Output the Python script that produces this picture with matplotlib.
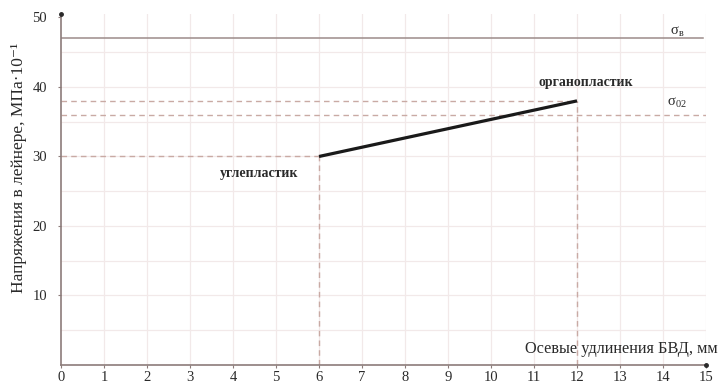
import matplotlib
matplotlib.use("Agg")
import matplotlib.pyplot as plt

plt.rcParams['font.family'] = ['Liberation Serif', 'DejaVu Serif']

# Data
x_ticks = list(range(0, 16))
y_ticks = [10, 20, 30, 40, 50]
line_x = [6, 12]
line_y = [30, 38]
sigma_b = 47
sigma_02 = 36
label_start = "углепластик"
label_end = "органопластик"

fig = plt.figure(figsize=(7.2, 3.85), dpi=100)
ax = fig.add_axes([61 / 720, 20 / 385, 645 / 720, 351 / 385])
ax.set_xlim(0, 15)
ax.set_ylim(0, 50.5)

# faint grid
grid_c = '#f2e9e9'
for gx in x_ticks[1:]:
    ax.axvline(gx, color=grid_c, lw=0.9, zorder=0)
for gy in range(5, 50, 5):
    ax.axhline(gy, color=grid_c, lw=0.9, zorder=0)

# reference levels
ax.axhline(sigma_b, color='#9c8c8a', lw=1.1, xmax=14.93 / 15, zorder=2)
dash_c = '#c9aaa4'
dash = (0, (4, 3))
ax.plot([0, 15], [sigma_02, sigma_02], ls=dash, color=dash_c, lw=1.0, zorder=2)
ax.plot([0, line_x[0]], [line_y[0], line_y[0]], ls=dash, color=dash_c, lw=1.0, zorder=2)
ax.plot([0, line_x[1]], [line_y[1], line_y[1]], ls=dash, color=dash_c, lw=1.0, zorder=2)
ax.plot([line_x[0], line_x[0]], [0, line_y[0]], ls=dash, color=dash_c, lw=1.0, zorder=2)
ax.plot([line_x[1], line_x[1]], [0, line_y[1]], ls=dash, color=dash_c, lw=1.0, zorder=2)

# main dependence
ax.plot(line_x, line_y, color='#1a1a1a', lw=2.3, solid_capstyle='butt', zorder=3)

txt_kw = dict(fontsize=10, color='#2a2a2a', fontweight='bold')
ax.text(4.6, 27.6, label_start, ha='center', va='center', **txt_kw)
ax.text(12.2, 40.7, label_end, ha='center', va='center', **txt_kw)
ax.text(14.33, 48.0, "σ$_{\\mathregular{в}}$", ha='center', va='center', fontsize=10.5, color='#2a2a2a')
ax.text(14.33, 37.8, "σ$_{\\mathregular{02}}$", ha='center', va='center', fontsize=10.5, color='#2a2a2a')

# axes styling
for s in ['top', 'right']:
    ax.spines[s].set_visible(False)
spine_c = '#8c7c7a'
ax.spines['left'].set_color(spine_c)
ax.spines['bottom'].set_color(spine_c)
ax.spines['left'].set_linewidth(1.2)
ax.spines['bottom'].set_linewidth(1.2)

ax.set_xticks(x_ticks)
ax.set_yticks(y_ticks)
ax.tick_params(axis='both', length=2, width=0.8, color=spine_c, labelsize=10.5,
               labelcolor='#2a2a2a')
ax.tick_params(axis='x', pad=2)
ax.tick_params(axis='y', pad=8)
ax.plot([0], [50.5], marker='o', ms=2.5, color='#2a2a2a', clip_on=False, zorder=4)
ax.plot([15], [0], marker='o', ms=2.5, color='#2a2a2a', clip_on=False, zorder=4)

fig.text(19 / 720, 1 - 168 / 385, "Напряжения в лейнере, МПа·10⁻¹", rotation=90,
         ha='center', va='center', fontsize=12.5, color='#2a2a2a')
fig.text(718 / 720, 1 - 349 / 385, "Осевые удлинения БВД, мм", ha='right', va='center',
         fontsize=11.7, color='#2a2a2a')

fig.savefig("out.png", dpi=100)
